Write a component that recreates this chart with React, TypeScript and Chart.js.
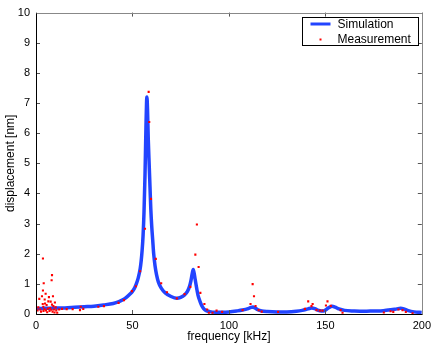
import React, { useEffect, useRef } from "react";
import { Chart, registerables } from "chart.js";

Chart.register(...registerables);

// Simulation curve (frequency in kHz, displacement in nm)
const simFreq = [
  0, 5, 10, 15, 20, 25, 30, 35, 40, 43, 45, 47, 49, 50, 51, 52, 53, 54, 54.5, 55,
  55.5, 56, 56.5, 57, 57.3, 57.5, 57.8, 58.2, 58.7, 59.1, 59.5, 60, 60.5, 61, 61.7,
  62.5, 63.5, 65, 67, 70, 73, 75, 77, 78.5, 79.5, 80.3, 81, 81.5, 82, 82.5, 83.3,
  84, 85, 86, 87, 88, 90, 93, 97, 100, 104, 107, 110, 111.5, 112.5, 113.5, 115,
  117, 120, 125, 130, 135, 138, 141, 143, 144.5, 146, 148, 149, 150.5, 152, 153.5,
  155, 157, 160, 165, 170, 175, 180, 184, 187, 189, 191, 193, 196, 200,
];
const simDisp = [
  0.18, 0.19, 0.2, 0.2, 0.22, 0.24, 0.26, 0.3, 0.35, 0.41, 0.47, 0.56, 0.68, 0.75,
  0.85, 1.0, 1.2, 1.5, 1.75, 2.1, 2.6, 3.4, 4.6, 6.2, 7.0, 7.2, 6.8, 5.8, 4.9, 4.2,
  3.5, 2.9, 2.45, 2.0, 1.6, 1.3, 1.05, 0.85, 0.7, 0.58, 0.52, 0.55, 0.63, 0.75,
  0.9, 1.1, 1.35, 1.48, 1.35, 1.15, 0.85, 0.62, 0.42, 0.27, 0.17, 0.12, 0.08, 0.06,
  0.06, 0.07, 0.1, 0.13, 0.18, 0.22, 0.23, 0.2, 0.14, 0.1, 0.08, 0.07, 0.07, 0.09,
  0.12, 0.17, 0.2, 0.18, 0.13, 0.1, 0.1, 0.15, 0.22, 0.26, 0.23, 0.17, 0.12, 0.1,
  0.09, 0.1, 0.11, 0.14, 0.17, 0.19, 0.16, 0.11, 0.07, 0.05,
];

// Measurement points
const measFreq = [
  0.8, 1.2, 1.7, 2.2, 2.6, 3.1, 3.5, 3.6, 3.6, 3.8, 3.9, 4.0, 4.3, 4.5, 4.7, 5.0,
  5.2, 5.5, 5.8, 6.2, 6.4, 6.7, 7.0, 7.3, 7.6, 7.9, 8.1, 8.3, 8.3, 8.6, 8.8, 9.0,
  9.3, 9.6, 9.8, 10.2, 10.5, 11, 12, 13.5, 15.9, 19, 22.8, 23.2, 24.5, 32.3, 35.2,
  42.8, 45.6, 49.7, 51.8, 54, 56.5, 58.4, 58.7, 59.6, 62.1, 64.9, 67.9, 73, 77, 80,
  82.6, 83.4, 84.3, 85.2, 87.3, 88.7, 89.6, 91.5, 93.6, 96.5, 107.1, 111.2, 112.3,
  113, 113.8, 115.4, 117, 125.5, 139.4, 141.1, 142.8, 143.4, 145.4, 147.1, 148.5,
  150.3, 151.1, 152.8, 157.9, 158.9, 180.3, 183.8, 185.2, 187.9, 190, 191.7, 195.2,
];
const measDisp = [
  0.12, 0.22, 0.5, 0.15, 0.08, 0.59, 0.33, 1.84, 0.78, 0.24, 0.1, 1.02, 0.16, 0.48,
  0.35, 0.67, 0.12, 0.3, 0.06, 0.18, 0.42, 0.56, 0.1, 0.2, 0.41, 0.14, 1.12, 1.29,
  0.31, 0.08, 0.59, 0.26, 0.15, 0.05, 0.38, 0.22, 0.12, 0.04, 0.15, 0.17, 0.16,
  0.16, 0.13, 0.24, 0.17, 0.24, 0.26, 0.37, 0.46, 0.76, 0.92, 1.42, 2.83, 7.37,
  6.37, 3.82, 1.83, 1.02, 0.72, 0.52, 0.66, 0.9, 1.97, 2.97, 1.56, 0.7, 0.33, 0.15,
  0.04, 0.04, 0.11, 0.07, 0.13, 0.33, 0.99, 0.59, 0.26, 0.13, 0.08, 0.07, 0.17,
  0.42, 0.26, 0.33, 0.13, 0.11, 0.11, 0.28, 0.42, 0.27, 0.13, 0.04, 0.05, 0.09,
  0.07, 0.15, 0.13, 0.07, 0.02,
];

const xTicks = [0, 50, 100, 150, 200];
const yTicks = [0, 1, 2, 3, 4, 5, 6, 7, 8, 9, 10];
const legendLabels = ["Simulation", "Measurement"];
const xTitle = "frequency [kHz]";
const yTitle = "displacement [nm]";

const FONT = "'Liberation Sans', Arial, Helvetica, sans-serif";
const BLUE = "#2244ff";
const RED = "#ff0000";

const framePlugin = {
  id: "frameAndLegend",
  afterDraw(chart: any) {
    const { ctx, chartArea: a, scales } = chart;
    ctx.save();
    // inward tick marks on all four sides
    ctx.strokeStyle = "#555";
    ctx.lineWidth = 1;
    ctx.beginPath();
    for (const v of xTicks) {
      const px = Math.round(scales.x.getPixelForValue(v)) + 0.5;
      ctx.moveTo(px, a.bottom);
      ctx.lineTo(px, a.bottom - 4);
      ctx.moveTo(px, a.top);
      ctx.lineTo(px, a.top + 4);
    }
    for (const v of yTicks) {
      const py = Math.round(scales.y.getPixelForValue(v)) + 0.5;
      ctx.moveTo(a.left, py);
      ctx.lineTo(a.left + 4, py);
      ctx.moveTo(a.right, py);
      ctx.lineTo(a.right - 4, py);
    }
    ctx.stroke();
    // frame
    ctx.strokeStyle = "#888";
    ctx.beginPath();
    ctx.moveTo(Math.round(a.left) + 0.5, Math.round(a.top) + 0.5);
    ctx.lineTo(Math.round(a.right) + 0.5, Math.round(a.top) + 0.5);
    ctx.lineTo(Math.round(a.right) + 0.5, Math.round(a.bottom) + 0.5);
    ctx.stroke();
    ctx.strokeStyle = "#000";
    ctx.beginPath();
    ctx.moveTo(Math.round(a.left) + 0.5, Math.round(a.top) + 0.5);
    ctx.lineTo(Math.round(a.left) + 0.5, Math.round(a.bottom) + 0.5);
    ctx.lineTo(Math.round(a.right) + 0.5, Math.round(a.bottom) + 0.5);
    ctx.stroke();

    // legend box
    const lw = 116;
    const lh = 28;
    const lx = Math.round(a.right - 4 - lw) + 0.5;
    const ly = Math.round(a.top + 4) + 0.5;
    ctx.fillStyle = "#fff";
    ctx.fillRect(lx, ly, lw, lh);
    ctx.strokeStyle = "#000";
    ctx.lineWidth = 1;
    ctx.strokeRect(lx, ly, lw, lh);
    // simulation sample
    ctx.strokeStyle = BLUE;
    ctx.lineWidth = 3;
    ctx.beginPath();
    ctx.moveTo(lx + 8, ly + 6.5);
    ctx.lineTo(lx + 28, ly + 6.5);
    ctx.stroke();
    // measurement sample
    ctx.fillStyle = RED;
    ctx.fillRect(lx + 17, ly + 21, 2, 2);
    ctx.fillStyle = "#000";
    ctx.font = `12px ${FONT}`;
    ctx.textBaseline = "middle";
    ctx.textAlign = "left";
    ctx.fillText(legendLabels[0], lx + 35, ly + 7);
    ctx.fillText(legendLabels[1], lx + 35, ly + 22.5);
    ctx.restore();
  },
};

export default function App() {
  const ref = useRef<HTMLCanvasElement | null>(null);

  useEffect(() => {
    if (!ref.current) return;
    const sim = simFreq.map((f, i) => ({ x: f, y: simDisp[i] }));
    const meas = measFreq.map((f, i) => ({ x: f, y: measDisp[i] }));
    const chart = new Chart(ref.current, {
      type: "scatter",
      data: {
        datasets: [
          {
            label: legendLabels[1],
            data: meas,
            showLine: false,
            pointStyle: "rect",
            pointRadius: 1.5,
            pointBorderWidth: 0,
            pointBackgroundColor: RED,
            backgroundColor: RED,
            borderColor: RED,
            order: 0,
          },
          {
            label: legendLabels[0],
            data: sim,
            showLine: true,
            borderColor: BLUE,
            backgroundColor: BLUE,
            borderWidth: 3.5,
            pointRadius: 0,
            cubicInterpolationMode: "monotone",
            order: 1,
          } as any,
        ],
      },
      options: {
        animation: false,
        responsive: false,
        maintainAspectRatio: false,
        events: [],
        layout: { padding: { top: 10, right: 14, left: 0, bottom: 0 } },
        plugins: {
          legend: { display: false },
          tooltip: { enabled: false },
        },
        scales: {
          x: {
            type: "linear",
            min: 0,
            max: 200,
            afterBuildTicks: (s: any) => {
              s.ticks = xTicks.map((v) => ({ value: v }));
            },
            afterFit: (s: any) => {
              s.height = 32;
            },
            grid: { display: false, drawTicks: false },
            border: { display: false },
            ticks: {
              color: "#000",
              padding: 5,
              font: { family: FONT, size: 11 },
              maxRotation: 0,
            },
            title: {
              display: true,
              text: xTitle,
              color: "#000",
              font: { family: FONT, size: 12 },
              padding: { top: 0, bottom: 2 },
            },
          },
          y: {
            type: "linear",
            min: 0,
            max: 10,
            afterBuildTicks: (s: any) => {
              s.ticks = yTicks.map((v) => ({ value: v }));
            },
            afterFit: (s: any) => {
              s.width = 36;
            },
            grid: { display: false, drawTicks: false },
            border: { display: false },
            ticks: {
              color: "#000",
              padding: 6,
              font: { family: FONT, size: 11 },
            },
            title: {
              display: true,
              text: yTitle,
              color: "#000",
              font: { family: FONT, size: 12 },
              padding: { top: 3, bottom: 0 },
            },
          },
        },
      },
      plugins: [framePlugin],
    });
    return () => chart.destroy();
  }, []);

  return (
    <div style={{ position: "fixed", left: 0, top: 0, width: 436, height: 346, background: "#fff" }}>
      <canvas ref={ref} width={436} height={346} style={{ width: 436, height: 346 }} />
    </div>
  );
}
